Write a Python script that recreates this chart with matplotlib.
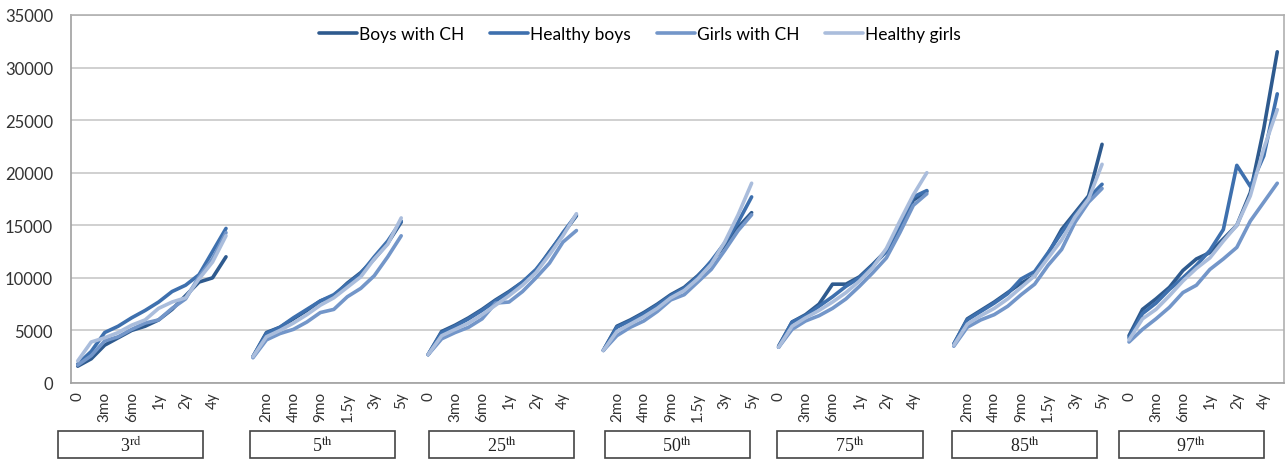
import numpy as np
import matplotlib.pyplot as plt
from matplotlib.patches import Rectangle

plt.rcParams['font.family'] = ['Lato', 'DejaVu Sans']
plt.rcParams['mathtext.fontset'] = 'stix'

ages = ['0', '2mo', '3mo', '4mo', '6mo', '9mo', '1y', '1.5y', '2y', '3y', '4y', '5y']
percentiles = ['3', '5', '25', '50', '75', '85', '97']
suffixes = ['rd', 'th', 'th', 'th', 'th', 'th', 'th']

# one row per percentile, one value per age
boys_ch = [
    [1600, 2300, 3600, 4300, 5000, 5400, 6000, 7000, 8300, 9600, 10000, 12000],
    [2500, 4800, 5300, 6100, 6900, 7800, 8300, 9500, 10500, 11800, 13300, 15300],
    [2700, 4900, 5500, 6200, 7000, 7900, 8700, 9600, 10700, 12500, 14200, 15900],
    [3100, 5400, 6000, 6700, 7500, 8400, 9100, 10200, 11500, 13100, 14800, 16200],
    [3500, 5800, 6500, 7500, 9400, 9400, 10100, 11300, 12600, 15000, 17400, 18200],
    [3700, 6100, 6900, 7700, 8600, 9500, 10200, 12300, 14600, 16200, 17800, 22700],
    [4500, 7000, 8000, 9100, 10700, 11800, 12400, 13700, 15000, 18100, 24200, 31500],
]
healthy_boys = [
    [1800, 3000, 4800, 5400, 6200, 6900, 7700, 8700, 9300, 10300, 12500, 14700],
    [2500, 4700, 5300, 6200, 7000, 7800, 8400, 9400, 10400, 12000, 13500, 15400],
    [2700, 4800, 5400, 6100, 6900, 7800, 8600, 9600, 10800, 12400, 14300, 16000],
    [3100, 5300, 5900, 6600, 7400, 8300, 9000, 10100, 11600, 13300, 15300, 17700],
    [3400, 5800, 6400, 7300, 8200, 9200, 10000, 11200, 12500, 15000, 17700, 18300],
    [3700, 6000, 6800, 7600, 8500, 9900, 10600, 12400, 14300, 16000, 17600, 18900],
    [4300, 6600, 7600, 8900, 10000, 11200, 12600, 14600, 20700, 18700, 21600, 27500],
]
girls_ch = [
    [1700, 2600, 4000, 4400, 5100, 5700, 6000, 7100, 8000, 10100, 11800, 14300],
    [2400, 4100, 4700, 5100, 5800, 6700, 7000, 8200, 9000, 10200, 12000, 14000],
    [2700, 4200, 4800, 5300, 6100, 7600, 7700, 8700, 10000, 11400, 13400, 14500],
    [3100, 4500, 5300, 5900, 6800, 7900, 8400, 9600, 10800, 12600, 14500, 16000],
    [3400, 5100, 5900, 6400, 7100, 8000, 9200, 10500, 11900, 14300, 16900, 18000],
    [3500, 5300, 6000, 6500, 7300, 8400, 9400, 11200, 12700, 15300, 17200, 18500],
    [3900, 5100, 6100, 7200, 8600, 9300, 10800, 11800, 12900, 15400, 17200, 19000],
]
healthy_girls = [
    [2100, 3900, 4300, 4800, 5500, 6000, 7100, 7700, 8100, 9900, 11500, 14000],
    [2500, 4400, 5000, 5700, 6500, 7400, 8100, 9100, 10100, 11800, 13200, 15700],
    [2700, 4500, 5100, 5700, 6500, 7400, 8300, 9300, 10500, 12200, 14000, 16100],
    [3100, 4900, 5600, 6300, 7100, 8100, 8800, 9900, 11300, 13400, 16000, 19000],
    [3400, 5400, 6200, 6900, 7700, 8600, 9700, 11000, 12800, 15400, 17900, 20000],
    [3600, 5600, 6400, 7100, 8000, 9100, 10200, 11900, 13600, 15800, 17500, 20800],
    [4100, 6100, 7000, 8300, 9700, 10900, 11900, 13500, 15000, 17800, 22300, 26000],
]

series = [
    ('Boys with CH', boys_ch, '#2E5A8E'),
    ('Healthy boys', healthy_boys, '#3E70AE'),
    ('Girls with CH', girls_ch, '#7396C9'),
    ('Healthy girls', healthy_girls, '#AABDDC'),
]


def flatten(rows):
    # blank category between percentile groups breaks the line
    out = []
    for i, row in enumerate(rows):
        if i > 0:
            out.append(np.nan)
        out.extend(row)
    return np.array(out, dtype=float)


cat_labels = []
for i in range(len(percentiles)):
    if i > 0:
        cat_labels.append('')
    cat_labels.extend(ages)
x = np.arange(len(cat_labels))

fig = plt.figure(figsize=(12.87, 4.64), dpi=100)
ax = fig.add_axes([71 / 1287, 80 / 464, 1213 / 1287, 368 / 464])

for name, rows, color in series:
    ax.plot(x, flatten(rows), color=color, lw=2.6, label=name,
            solid_capstyle='round', solid_joinstyle='round')

ax.set_xlim(-0.5, len(cat_labels) - 0.5)
ax.set_ylim(0, 35000)
ax.set_yticks(np.arange(0, 35001, 5000))
ax.yaxis.grid(True, color='#C8C8C8', lw=1.2)
ax.set_axisbelow(True)
ax.tick_params(axis='y', length=0, pad=13, labelsize=12, labelcolor='#333333')

ax.set_xticks(x[::2])
ax.set_xticklabels(cat_labels[::2], rotation=90, va='top', ha='center')
ax.tick_params(axis='x', length=0, pad=6, labelsize=11, labelcolor='#333333')

for side in ['top', 'right']:
    ax.spines[side].set_color('#B0B0B0')
for side in ['left', 'bottom']:
    ax.spines[side].set_color('#A0A0A0')
for s in ax.spines.values():
    s.set_linewidth(1.2)

ax.legend(loc='upper center', bbox_to_anchor=(0.469, 1.012), ncol=4, frameon=False,
          fontsize=12.5, handlelength=2.2, handletextpad=0.1, columnspacing=1.5)

# percentile group boxes under the axis
box_centers = [130.5, 322, 501.5, 677, 850, 1024.5, 1191]
for c, p, suf in zip(box_centers, percentiles, suffixes):
    fig.add_artist(Rectangle(((c - 72.5) / 1287, (464 - 459) / 464), 145 / 1287, 27 / 464,
                             transform=fig.transFigure, fill=False, ec='#444444', lw=1.2))
    fig.text(c / 1287, (464 - 446) / 464, p + r'$^{\mathrm{' + suf + '}}$',
             ha='center', va='center', fontsize=13, family='Liberation Serif', color='#222222')

fig.savefig('out.png', dpi=100)
